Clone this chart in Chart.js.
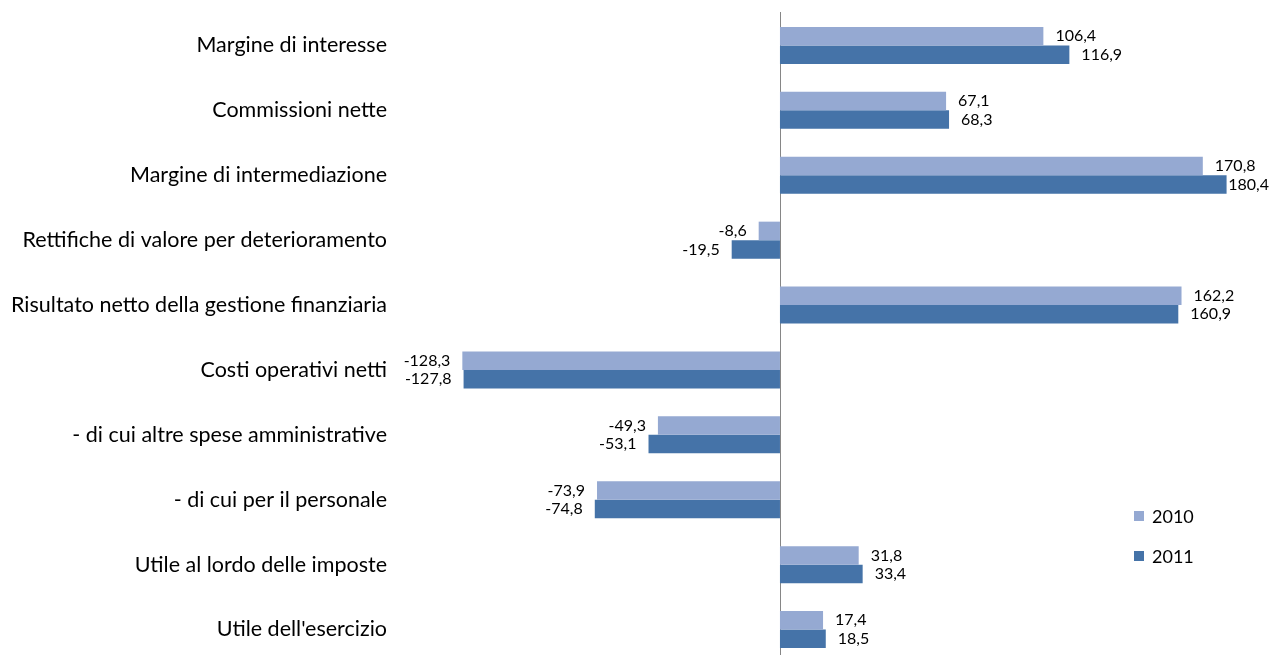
<!DOCTYPE html>
<html><head><meta charset="utf-8">
<script src="https://cdn.jsdelivr.net/npm/chart.js@4/dist/chart.umd.min.js"></script>
<style>html,body{margin:0;padding:0;background:#fff;overflow:hidden}#wrap{width:1271px;height:665px;position:relative}</style>
</head><body><div id="wrap"><canvas id="c"></canvas></div>
<script>
const categories = ["Margine di interesse","Commissioni nette","Margine di intermediazione","Rettifiche di valore per deterioramento","Risultato netto della gestione finanziaria","Costi operativi netti","- di cui altre spese amministrative","- di cui per il personale","Utile al lordo delle imposte","Utile dell'esercizio"];
const values2010 = [106.4, 67.1, 170.8, -8.6, 162.2, -128.3, -49.3, -73.9, 31.8, 17.4];
const values2011 = [116.9, 68.3, 180.4, -19.5, 160.9, -127.8, -53.1, -74.8, 33.4, 18.5];
const seriesNames = ["2010", "2011"];
const FONT = "Lato, 'Open Sans', sans-serif";

const zeroLinePlugin = {
  id: 'zeroLine',
  beforeDatasetsDraw(chart) {
    const ctx = chart.ctx, a = chart.chartArea;
    const x = Math.round(chart.scales.x.getPixelForValue(0)) + 0.5;
    ctx.save();
    ctx.strokeStyle = '#868686';
    ctx.lineWidth = 1;
    ctx.beginPath();
    ctx.moveTo(x, a.top - 1);
    ctx.lineTo(x, a.bottom);
    ctx.stroke();
    ctx.restore();
  }
};

const labelPlugin = {
  id: 'valLabels',
  afterDatasetsDraw(chart) {
    const ctx = chart.ctx;
    ctx.save();
    ctx.font = "16px " + FONT;
    ctx.fillStyle = "#000";
    ctx.textBaseline = "middle";
    chart.data.datasets.forEach((ds, i) => {
      const meta = chart.getDatasetMeta(i);
      meta.data.forEach((el, j) => {
        const v = ds.data[j];
        const t = v.toFixed(1).replace('.', ',');
        const w = ctx.measureText(t).width;
        if (v >= 0) {
          let x = el.x + 12;
          if (x + w > 1269) x = 1269 - w;
          ctx.textAlign = "left";
          ctx.fillText(t, x, el.y);
        } else {
          ctx.textAlign = "right";
          ctx.fillText(t, el.x - 12, el.y);
        }
      });
    });
    // legend
    ctx.font = "18px " + FONT;
    ctx.textAlign = "left";
    const ly = [516, 556];
    chart.data.datasets.forEach((ds, i) => {
      ctx.fillStyle = ds.backgroundColor;
      ctx.fillRect(1134, ly[i] - 5, 10, 10);
      ctx.fillStyle = "#000";
      ctx.fillText(ds.label, 1152, ly[i] + 1);
    });
    ctx.restore();
  }
};

new Chart(document.getElementById('c'), {
  type: 'bar',
  data: {
    labels: categories,
    datasets: [
      { label: seriesNames[0], data: values2010, backgroundColor: '#95A9D2' },
      { label: seriesNames[1], data: values2011, backgroundColor: '#4573A8' }
    ]
  },
  options: {
    indexAxis: 'y',
    responsive: true,
    maintainAspectRatio: false,
    animation: false,
    layout: { padding: { top: 13, bottom: 3, left: 0, right: 11 } },
    datasets: { bar: { categoryPercentage: 0.57, barPercentage: 1.0 } },
    plugins: { legend: { display: false }, tooltip: { enabled: false } },
    scales: {
      x: {
        min: -155.5, max: 193.9,
        afterFit: s => { s.height = 0; s.paddingLeft = 0; s.paddingRight = 0; s.paddingTop = 0; s.paddingBottom = 0; },
        ticks: { display: false },
        border: { display: false },
        grid: { display: false, drawTicks: false }
      },
      y: {
        afterFit: s => { s.width = 395; s.paddingTop = 0; s.paddingBottom = 0; s.paddingLeft = 0; s.paddingRight = 0; },
        border: { display: false },
        grid: { display: false, drawTicks: false },
        ticks: { padding: 8, color: '#000', font: { family: FONT, size: 21.5 } }
      }
    }
  },
  plugins: [zeroLinePlugin, labelPlugin]
});
</script></body></html>
